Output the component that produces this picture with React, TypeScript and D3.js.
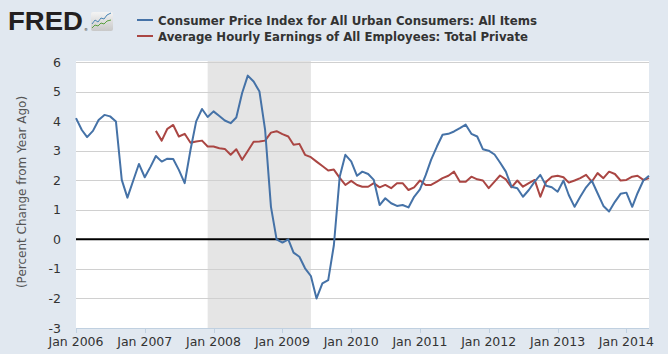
import { useEffect, useRef } from 'react'
import * as d3 from 'd3'

// monthly series, percent change from year ago
const cpiStart = new Date(2006, 0, 1)
const cpiValues = [
  4.1, 3.7, 3.46, 3.67, 4.04, 4.21, 4.16, 3.99, 2.01, 1.41, 1.99, 2.55,
  2.1, 2.46, 2.82, 2.63, 2.73, 2.72, 2.35, 1.9, 3.03, 3.99, 4.41, 4.14,
  4.33, 4.17, 4.02, 3.93, 4.12, 4.95, 5.54, 5.34, 5.0, 3.7, 1.1, 0.0,
  -0.11, 0.0, -0.45, -0.59, -0.98, -1.24, -2.0, -1.49, -1.38, -0.2, 2.12, 2.86,
  2.64, 2.15, 2.29, 2.21, 2.01, 1.16, 1.39, 1.22, 1.13, 1.16, 1.08, 1.44,
  1.69, 2.18, 2.69, 3.14, 3.54, 3.57, 3.65, 3.76, 3.88, 3.57, 3.48, 3.05,
  3.0, 2.87, 2.6, 2.29, 1.78, 1.73, 1.44, 1.67, 1.95, 2.18, 1.81, 1.76,
  1.61, 1.99, 1.5, 1.1, 1.44, 1.76, 1.99, 1.56, 1.13, 0.94, 1.27, 1.54,
  1.58, 1.1, 1.56, 1.99, 2.15
]

const earningsStart = new Date(2007, 2, 1)
const earningsValues = [
  3.67, 3.34, 3.74, 3.87, 3.48, 3.57, 3.27, 3.31, 3.34, 3.14,
  3.14, 3.08, 3.06, 2.86, 3.05, 2.69, 2.99, 3.3, 3.31, 3.34, 3.61, 3.66,
  3.56, 3.48, 3.2, 3.23, 2.86, 2.78, 2.63, 2.48, 2.33, 2.36, 2.08, 1.84,
  1.98, 1.84, 1.78, 1.78, 1.9, 1.76, 1.84, 1.73, 1.9, 1.9, 1.67, 1.76,
  1.99, 1.84, 1.84, 1.95, 2.07, 2.15, 2.29, 1.95, 1.95, 2.12, 2.03, 1.99,
  1.73, 1.95, 2.16, 2.03, 1.76, 1.99, 1.78, 1.9, 2.01, 1.44, 1.95, 2.12,
  2.15, 2.1, 1.92, 1.99, 2.07, 2.18, 1.95, 2.24, 2.07, 2.29, 2.21, 1.99,
  2.01, 2.12, 2.15, 2.01, 2.07
]

const seriesNames = [
  'Consumer Price Index for All Urban Consumers: All Items',
  'Average Hourly Earnings of All Employees: Total Private'
]
const seriesColors = ['#4572a7', '#aa4643']

const recession = [new Date(2007, 11, 1), new Date(2009, 5, 1)]
const yTicks = [-3, -2, -1, 0, 1, 2, 3, 4, 5, 6]
const xTickYears = [2006, 2007, 2008, 2009, 2010, 2011, 2012, 2013, 2014]

export default function App() {
  const ref = useRef<SVGSVGElement | null>(null)

  useEffect(() => {
    const svg = d3.select(ref.current)
    svg.selectAll('*').remove()

    const left = 76, right = 649, top = 62, bottom = 328
    const font = 'DejaVu Sans, Verdana, sans-serif'

    const toPoints = (start: Date, vals: number[]) =>
      vals.map((v, i) => ({ date: d3.timeMonth.offset(start, i), value: v }))
    const cpi = toPoints(cpiStart, cpiValues)
    const earn = toPoints(earningsStart, earningsValues)

    const x = d3.scaleTime()
      .domain([cpi[0].date, cpi[cpi.length - 1].date])
      .range([left, right])
    const y = d3.scaleLinear().domain([-3, 6]).range([bottom, top])

    svg.append('rect')
      .attr('width', 668).attr('height', 354)
      .attr('fill', '#e1e8f0')

    // plot background
    svg.append('rect')
      .attr('x', left).attr('y', top - 1)
      .attr('width', right - left).attr('height', bottom - top + 1)
      .attr('fill', '#ffffff')

    svg.append('rect')
      .attr('x', x(recession[0])).attr('y', top - 1)
      .attr('width', x(recession[1]) - x(recession[0]))
      .attr('height', bottom - top + 1)
      .attr('fill', '#e5e5e5')

    // grid
    svg.append('g').selectAll('line')
      .data(yTicks.filter(d => d !== 0 && d !== -3))
      .enter().append('line')
      .attr('x1', left).attr('x2', right)
      .attr('y1', d => Math.round(y(d)) + 0.5).attr('y2', d => Math.round(y(d)) + 0.5)
      .attr('stroke', '#d0d0d0')

    svg.append('g').selectAll('text')
      .data(yTicks)
      .enter().append('text')
      .attr('x', 61).attr('y', d => y(d) + 4.5)
      .attr('text-anchor', 'end')
      .style('font-family', font).style('font-size', '12.5px')
      .attr('fill', '#333')
      .text(d => d)

    // x axis
    const xAxisG = svg.append('g')
    xAxisG.append('line')
      .attr('x1', left).attr('x2', right)
      .attr('y1', bottom + 0.5).attr('y2', bottom + 0.5)
      .attr('stroke', '#c0d0e0')
    const xTicks = xTickYears.map(yr => new Date(yr, 0, 1))
    xAxisG.selectAll('line.tick')
      .data(xTicks)
      .enter().append('line')
      .attr('class', 'tick')
      .attr('x1', d => Math.round(x(d)) + 0.5).attr('x2', d => Math.round(x(d)) + 0.5)
      .attr('y1', bottom).attr('y2', bottom + 5)
      .attr('stroke', '#c0d0e0')
    xAxisG.selectAll('text')
      .data(xTicks)
      .enter().append('text')
      .attr('x', d => x(d)).attr('y', 346)
      .attr('text-anchor', 'middle')
      .style('font-family', font).style('font-size', '12.5px')
      .attr('fill', '#333')
      .text(d => d3.timeFormat('Jan %Y')(d))

    svg.append('text')
      .attr('transform', `translate(26,${(top + bottom) / 2 - 3}) rotate(-90)`)
      .attr('text-anchor', 'middle')
      .style('font-family', font).style('font-size', '12px')
      .attr('fill', '#555')
      .text('(Percent Change from Year Ago)')

    // zero line
    svg.append('line')
      .attr('x1', left).attr('x2', right)
      .attr('y1', y(0)).attr('y2', y(0))
      .attr('stroke', '#000').attr('stroke-width', 2)

    const line = d3.line<{ date: Date; value: number }>()
      .x(d => x(d.date)).y(d => y(d.value))

    svg.append('path').datum(earn)
      .attr('d', line).attr('fill', 'none')
      .attr('stroke', seriesColors[1]).attr('stroke-width', 2)
      .attr('stroke-linejoin', 'round')
    svg.append('path').datum(cpi)
      .attr('d', line).attr('fill', 'none')
      .attr('stroke', seriesColors[0]).attr('stroke-width', 2)
      .attr('stroke-linejoin', 'round')

    // legend
    const legend = svg.append('g')
    const widths = [379, 370]
    seriesNames.forEach((name, i) => {
      const ly = 20 + i * 16
      legend.append('line')
        .attr('x1', 137).attr('x2', 153)
        .attr('y1', ly).attr('y2', ly)
        .attr('stroke', seriesColors[i]).attr('stroke-width', 2)
      legend.append('text')
        .attr('x', 158).attr('y', ly + 4.5)
        .attr('textLength', widths[i]).attr('lengthAdjust', 'spacingAndGlyphs')
        .style('font-family', font).style('font-size', '13px').style('font-weight', 'bold')
        .attr('fill', '#333')
        .text(name)
    })

    // FRED logo
    const logo = svg.append('g')
    logo.append('text')
      .attr('x', 8).attr('y', 30)
      .attr('textLength', 75).attr('lengthAdjust', 'spacingAndGlyphs')
      .style('font-family', 'Liberation Sans, Arial, sans-serif')
      .style('font-size', '26px').style('font-weight', 'bold')
      .attr('fill', '#231f20')
      .text('FRED')
    logo.append('text')
      .attr('x', 84).attr('y', 31)
      .style('font-family', font).style('font-size', '4px')
      .attr('fill', '#231f20').text('®')
    const grad = svg.append('defs').append('linearGradient')
      .attr('id', 'icon').attr('x1', 0).attr('y1', 0).attr('x2', 0).attr('y2', 1)
    grad.append('stop').attr('offset', '0%').attr('stop-color', '#f4f4f4')
    grad.append('stop').attr('offset', '100%').attr('stop-color', '#c8c8c8')
    logo.append('rect')
      .attr('x', 91).attr('y', 12).attr('width', 22).attr('height', 19).attr('rx', 2)
      .attr('fill', 'url(#icon)')
    logo.append('path')
      .attr('d', 'M92,24 L95,20 L98,22 L101,18 L104,19 L107,15 L111,13')
      .attr('fill', 'none').attr('stroke', '#4a86b5').attr('stroke-width', 1)
    logo.append('path')
      .attr('d', 'M92,28 L95,25 L98,26 L101,23 L104,24 L107,21 L111,20')
      .attr('fill', 'none').attr('stroke', '#5aa040').attr('stroke-width', 1)
  }, [])

  return (
    <svg ref={ref} width={668} height={354}
      style={{ position: 'absolute', left: 0, top: 0, display: 'block' }} />
  )
}
